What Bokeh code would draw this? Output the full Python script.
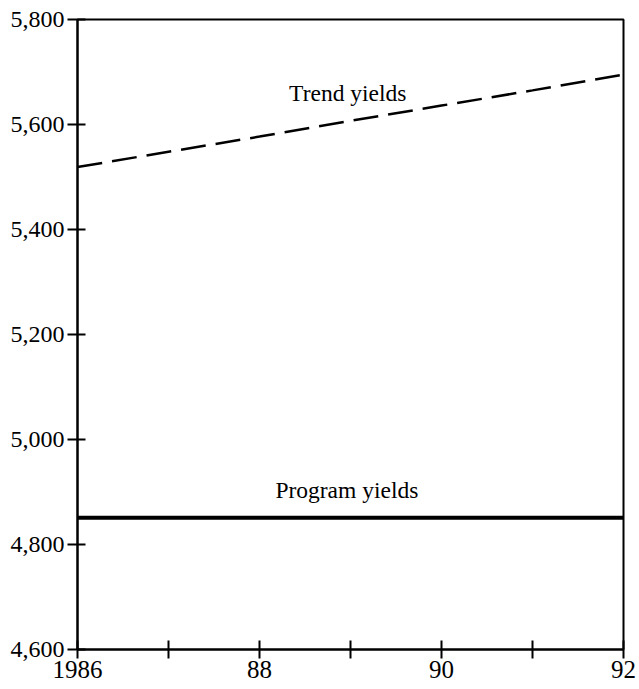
from bokeh.plotting import figure
from bokeh.models import FixedTicker, NumeralTickFormatter, Range1d, ColumnDataSource, Label
from bokeh.embed import file_html
from bokeh.resources import INLINE

# Data
years = [1986, 1987, 1988, 1989, 1990, 1991, 1992]
trend_yields = [5519, 5548, 5577, 5607, 5636, 5665, 5695]
program_yields = [4851, 4851, 4851, 4851, 4851, 4851, 4851]

x_major_ticks = [1986, 1988, 1990, 1992]
x_minor_ticks = [1987, 1989, 1991]
x_tick_labels = {1986: "1986", 1988: "88", 1990: "90", 1992: "92"}
y_ticks = [4600, 4800, 5000, 5200, 5400, 5600, 5800]

trend_label = ("Trend yields", 1988.97, 5660)
program_label = ("Program yields", 1988.96, 4904)

FONT = "Liberation Serif"

p = figure(
    frame_width=546, frame_height=630,
    min_border_left=77, min_border_right=16, min_border_top=19, min_border_bottom=40,
    x_range=Range1d(1986, 1992), y_range=Range1d(4600, 5800),
    output_backend="svg", toolbar_location=None,
    background_fill_color="white", border_fill_color="white",
)
p.grid.visible = False
p.outline_line_color = "black"
p.outline_line_width = 2
p.outline_line_alpha = 1.0

src = ColumnDataSource(dict(x=years, trend=trend_yields, program=program_yields))
p.line("x", "trend", source=src, line_color="black", line_width=2.5, line_dash="25 10")
p.line("x", "program", source=src, line_color="black", line_width=4)

for txt, x, y in (trend_label, program_label):
    p.add_layout(Label(x=x, y=y, text=txt, text_align="center", text_baseline="alphabetic",
                       text_font=FONT, text_font_size="23.5px", text_color="black"))

xa = p.xaxis[0]
xa.ticker = FixedTicker(ticks=x_major_ticks, minor_ticks=x_minor_ticks)
xa.major_label_overrides = {k: v for k, v in x_tick_labels.items()}
xa.major_tick_in = 9
xa.major_tick_out = 9
xa.minor_tick_in = 9
xa.minor_tick_out = 9
xa.major_label_standoff = 2
xa.axis_line_width = 2
xa.major_tick_line_width = 2
xa.minor_tick_line_width = 2
xa.major_label_text_font = FONT
xa.major_label_text_font_size = "25px"
xa.major_label_text_color = "black"
xa.axis_line_color = "black"
xa.major_tick_line_color = "black"
xa.minor_tick_line_color = "black"

ya = p.yaxis[0]
ya.ticker = FixedTicker(ticks=y_ticks, minor_ticks=[])
ya.formatter = NumeralTickFormatter(format="0,0")
ya.major_tick_in = 8
ya.major_tick_out = 10
ya.minor_tick_in = 0
ya.minor_tick_out = 0
ya.major_label_standoff = 3
ya.axis_line_width = 2
ya.major_tick_line_width = 2
ya.major_label_text_font = FONT
ya.major_label_text_font_size = "24px"
ya.major_label_text_color = "black"
ya.axis_line_color = "black"
ya.major_tick_line_color = "black"

open("out.html", "w").write(file_html(p, INLINE))
